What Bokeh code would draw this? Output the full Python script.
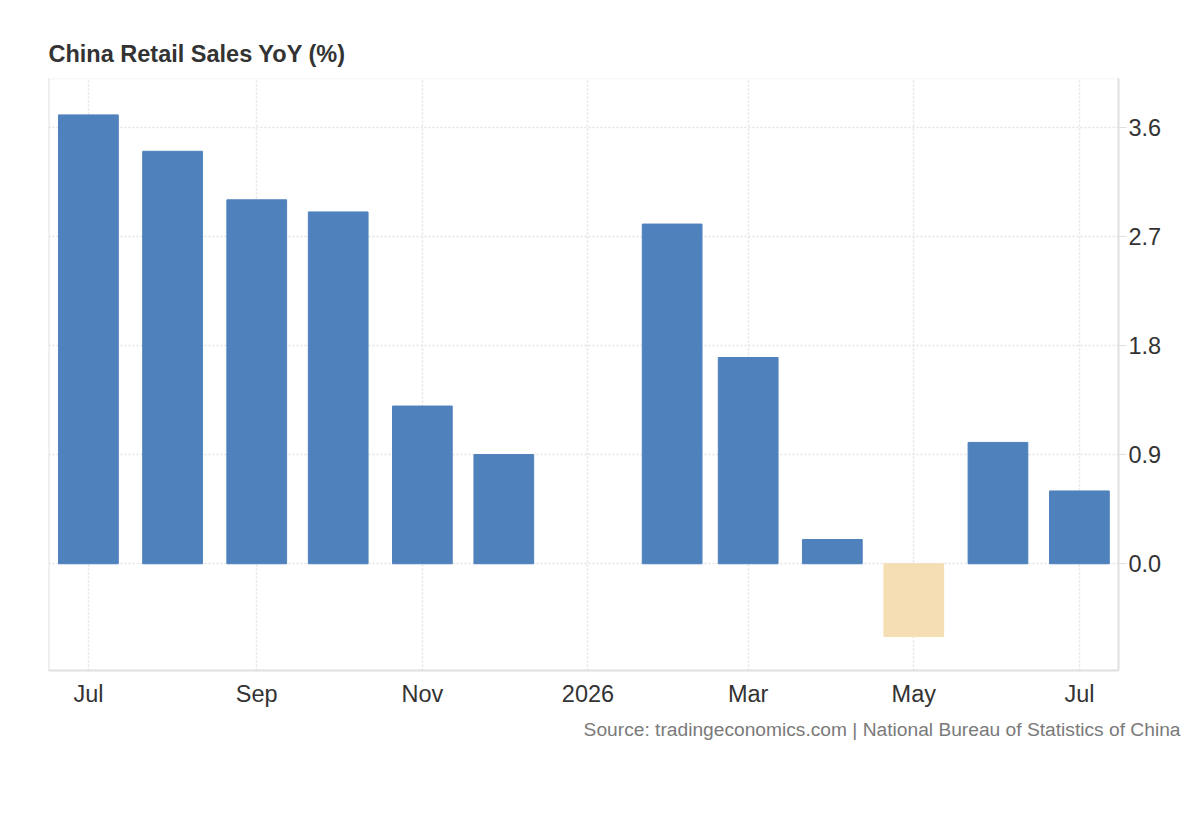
from datetime import datetime

from bokeh.embed import file_html
from bokeh.models import (ColumnDataSource, FixedTicker, LinearAxis,
                          NumeralTickFormatter, Span, Title)
from bokeh.plotting import figure
from bokeh.resources import INLINE

# monthly readings, Jan 2026 not published separately
months = ["2025-07", "2025-08", "2025-09", "2025-10", "2025-11", "2025-12",
          "2026-02", "2026-03", "2026-04", "2026-05", "2026-06", "2026-07"]
yoy = [3.7, 3.4, 3.0, 2.9, 1.3, 0.9, 2.8, 1.7, 0.2, -0.6, 1.0, 0.6]

tick_months = ["2025-07", "2025-09", "2025-11", "2026-01", "2026-03", "2026-05", "2026-07"]
tick_labels = ["Jul", "Sep", "Nov", "2026", "Mar", "May", "Jul"]
y_ticks = [0.0, 0.9, 1.8, 2.7, 3.6]

BLUE = "#4f81bd"
NEG = "#f5deb3"
GRID = "#e3e3e3"
AXIS = "#e0e0e0"
TEXT = "#333333"
FONT = "Liberation Sans"
DAY = 86400000


def ms(s):
    return datetime.strptime(s, "%Y-%m").timestamp() * 1000


src = ColumnDataSource(dict(
    x=[ms(m) for m in months],
    top=yoy,
    color=[BLUE if v >= 0 else NEG for v in yoy],
))

x0 = ms("2025-07") - 14.7 * DAY
x1 = ms("2026-07") + 14.4 * DAY

p = figure(width=1192, height=768, x_axis_type="datetime",
           x_range=(x0, x1), y_range=(-0.88, 4.0),
           output_backend="svg", toolbar_location=None, y_axis_location=None,
           min_border_left=48, min_border_right=74,
           min_border_top=78, min_border_bottom=98)
p.outline_line_color = None
p.background_fill_color = "white"

p.title.text = "China Retail Sales YoY (%)"
p.title.text_font = FONT
p.title.text_font_size = "23.5px"
p.title.text_font_style = "bold"
p.title.text_color = TEXT
p.title.align = "left"
p.title.standoff = 23

p.add_layout(Title(text="Source: tradingeconomics.com | National Bureau of Statistics of China",
                   text_font=FONT, text_font_size="19.2px", text_font_style="normal",
                   text_color="#7a7a7a", align="right", offset=-62, standoff=14), "below")

p.vbar(x="x", top="top", bottom=0, width=22 * DAY, color="color", source=src)

# x axis
xt = [ms(m) for m in tick_months]
xa = p.xaxis[0]
xa.ticker = FixedTicker(ticks=xt)
xa.major_label_overrides = {t: lab for t, lab in zip(xt, tick_labels)}
xa.major_tick_line_color = None
xa.minor_tick_line_color = None
xa.axis_line_color = AXIS
xa.axis_line_width = 2
xa.major_label_standoff = 4
xa.major_label_text_font = FONT
xa.major_label_text_font_size = "23.5px"
xa.major_label_text_color = TEXT

# y axis on the right
ya = LinearAxis(ticker=FixedTicker(ticks=y_ticks),
                formatter=NumeralTickFormatter(format="0.0"))
ya.axis_line_color = AXIS
ya.axis_line_width = 2
ya.major_tick_line_color = AXIS
ya.major_tick_out = 8
ya.major_tick_in = 0
ya.minor_tick_line_color = None
ya.major_label_standoff = 2
ya.major_label_text_font = FONT
ya.major_label_text_font_size = "23.5px"
ya.major_label_text_color = TEXT
p.add_layout(ya, "right")

p.xgrid.ticker = FixedTicker(ticks=xt)
p.ygrid.ticker = FixedTicker(ticks=y_ticks)
for g in (p.xgrid, p.ygrid):
    g.grid_line_color = GRID
    g.grid_line_dash = "2 2"
    g.grid_line_width = 1.5

p.add_layout(Span(location=4.0, dimension="width", line_color=GRID,
                  line_dash="2 2", line_width=1.5))
p.add_layout(Span(location=x0, dimension="height", line_color=AXIS, line_width=2))

open("out.html", "w").write(file_html(p, INLINE))
